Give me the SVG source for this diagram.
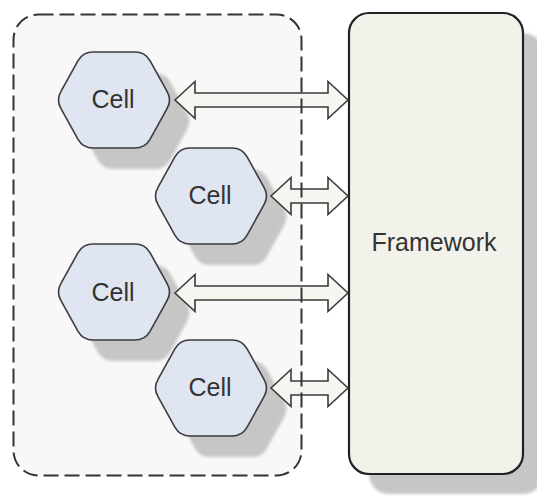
<svg xmlns="http://www.w3.org/2000/svg" xmlns:xlink="http://www.w3.org/1999/xlink" width="537" height="496" viewBox="0 0 537 496">
  <style>
    .hex { fill: #dfe5f1; stroke: #3c3c3c; stroke-width: 1.6; }
    .shadow { fill: #c6c6c6; filter: url(#blur); }
    .label { font-family: "Liberation Sans", Arial, sans-serif; font-size: 25px; fill: #333333; text-anchor: middle; }
    .arrow { fill: #f6f6f1; stroke: #3a3a3a; stroke-width: 1.6; stroke-linejoin: miter; }
    .container { fill: none; stroke: #333333; stroke-width: 2; stroke-dasharray: 15 6; }
  </style>
  <defs>
    <filter id="blur" x="-20%" y="-20%" width="140%" height="140%">
      <feGaussianBlur stdDeviation="1.5"/>
    </filter>
    <path id="hexShape" d="M -53,8.6 Q -58,0 -53,-8.6 L -36,-39.4 Q -31,-48 -21,-48 L 21,-48 Q 31,-48 36,-39.4 L 53,-8.6 Q 58,0 53,8.6 L 36,39.4 Q 31,48 21,48 L -21,48 Q -31,48 -36,39.4 Z"/>
  </defs>
  <rect width="537" height="496" fill="#ffffff"/>

  <g id="container-bg">
    <rect x="13.5" y="14.5" width="288" height="461" rx="25" ry="25" fill="#f8f8f8"/>
  </g>

  <g id="framework">
    <rect x="369" y="33" width="174" height="461" rx="20" ry="20" class="shadow"/>
    <rect x="349" y="13" width="174" height="461" rx="20" ry="20" fill="#f2f2eb" stroke="#222222" stroke-width="2.2"/>
    <text x="434" y="251" class="label">Framework</text>
  </g>

  <g id="cell1">
    <use xlink:href="#hexShape" class="shadow" transform="translate(134,121)"/>
    <use xlink:href="#hexShape" class="hex" transform="translate(114,100)"/>
    <text x="113" y="108" class="label">Cell</text>
  </g>
  <g id="cell2">
    <use xlink:href="#hexShape" class="shadow" transform="translate(231,217)"/>
    <use xlink:href="#hexShape" class="hex" transform="translate(211,196)"/>
    <text x="210" y="204" class="label">Cell</text>
  </g>
  <g id="cell3">
    <use xlink:href="#hexShape" class="shadow" transform="translate(134,313)"/>
    <use xlink:href="#hexShape" class="hex" transform="translate(114,292)"/>
    <text x="113" y="301" class="label">Cell</text>
  </g>
  <g id="cell4">
    <use xlink:href="#hexShape" class="shadow" transform="translate(231,409)"/>
    <use xlink:href="#hexShape" class="hex" transform="translate(211,388)"/>
    <text x="210" y="396" class="label">Cell</text>
  </g>

  <g id="connectors">
    <path class="arrow" d="M 175,100 L 195,81.5 L 195,93 L 328,93 L 328,81.5 L 348,100 L 328,118.5 L 328,107 L 195,107 L 195,118.5 Z"/>
    <path class="arrow" d="M 271,196 L 291,177.5 L 291,189 L 328,189 L 328,177.5 L 348,196 L 328,214.5 L 328,203 L 291,203 L 291,214.5 Z"/>
    <path class="arrow" d="M 175,293 L 195,274.5 L 195,286 L 328,286 L 328,274.5 L 348,293 L 328,311.5 L 328,300 L 195,300 L 195,311.5 Z"/>
    <path class="arrow" d="M 271,388 L 291,369.5 L 291,381 L 328,381 L 328,369.5 L 348,388 L 328,406.5 L 328,395 L 291,395 L 291,406.5 Z"/>
  </g>

  <g id="container">
    <rect x="13.5" y="14.5" width="288" height="461" rx="25" ry="25" class="container"/>
  </g>
</svg>
